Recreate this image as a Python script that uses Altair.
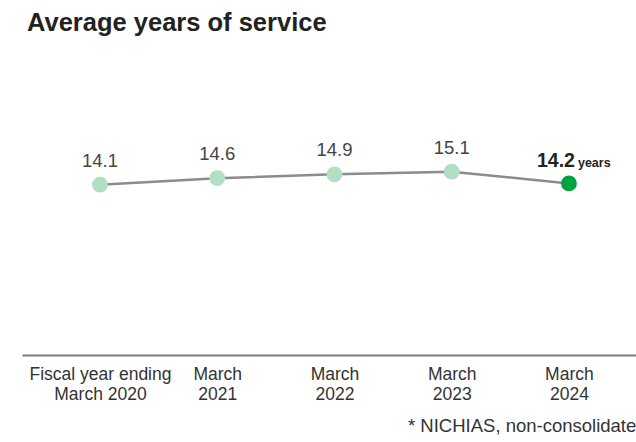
import altair as alt
import pandas as pd

categories = ["Fiscal year ending|March 2020", "March|2021", "March|2022", "March|2023", "March|2024"]
values = [14.1, 14.6, 14.9, 15.1, 14.2]
labels = ["14.1", "14.6", "14.9", "15.1", "14.2"]
highlight = [False, False, False, False, True]
unit = "years"
title = "Average years of service"
footnote = "* NICHIAS, non-consolidated"

df = pd.DataFrame({
    "idx": list(range(len(categories))),
    "cat": categories,
    "value": values,
    "label": labels,
    "hl": highlight,
})

FONT = "Liberation Sans"
label_map = "[" + ",".join("'" + c + "'" for c in categories) + "]"

x = alt.X(
    "idx:Q",
    scale=alt.Scale(domain=[-0.665, 4.572], nice=False, zero=False),
    axis=alt.Axis(
        values=list(range(len(categories))),
        labelExpr=f"split({label_map}[datum.value], '|')",
        title=None, ticks=False, grid=False,
        domainColor="#7a7a7a", domainWidth=2,
        labelFont=FONT, labelFontSize=17.5, labelColor="#333333",
        labelPadding=10, labelLineHeight=20, labelAlign="center",
    ),
)
y = alt.Y("value:Q", scale=alt.Scale(domain=[1, 25], nice=False, zero=False), axis=None)

base = alt.Chart(df).encode(x=x, y=y)

line = base.mark_line(color="#8c8c8f", strokeWidth=2.5)
points = base.mark_circle(size=250, opacity=1).encode(
    color=alt.Color("hl:N", scale=alt.Scale(domain=[False, True], range=["#b2dfc4", "#00a13f"]), legend=None)
)
normal_labels = base.transform_filter("!datum.hl").mark_text(
    dy=-24, font=FONT, fontSize=18.5, color="#444444"
).encode(text="label:N")
hl_label = base.transform_filter("datum.hl").mark_text(
    dy=-22, dx=6, align="right", font=FONT, fontSize=19.5, fontWeight="bold", color="#222222"
).encode(text="label:N")
hl_unit = base.transform_filter("datum.hl").mark_text(
    dy=-20, dx=9, align="left", font=FONT, fontSize=12.5, fontWeight="bold", color="#222222"
).encode(text=alt.value(unit))
note = alt.Chart(pd.DataFrame({"t": [footnote]})).mark_text(
    align="left", baseline="middle", font=FONT, fontSize=18.5, color="#333333"
).encode(x=alt.value(386), y=alt.value(383), text="t:N")

chart = alt.layer(line, points, normal_labels, hl_label, hl_unit, note).properties(
    width=614, height=312,
    autosize=alt.AutoSizeParams(type="none"),
    padding={"left": 22, "top": 43, "right": 0, "bottom": 87},
    title=alt.TitleParams(title, anchor="start", frame="group", font=FONT, fontSize=25.5,
                          fontWeight="bold", color="#222222", dx=5, offset=7),
).configure_view(stroke=None)

chart.save("out.html", embed_options={"renderer": "svg", "actions": False})
